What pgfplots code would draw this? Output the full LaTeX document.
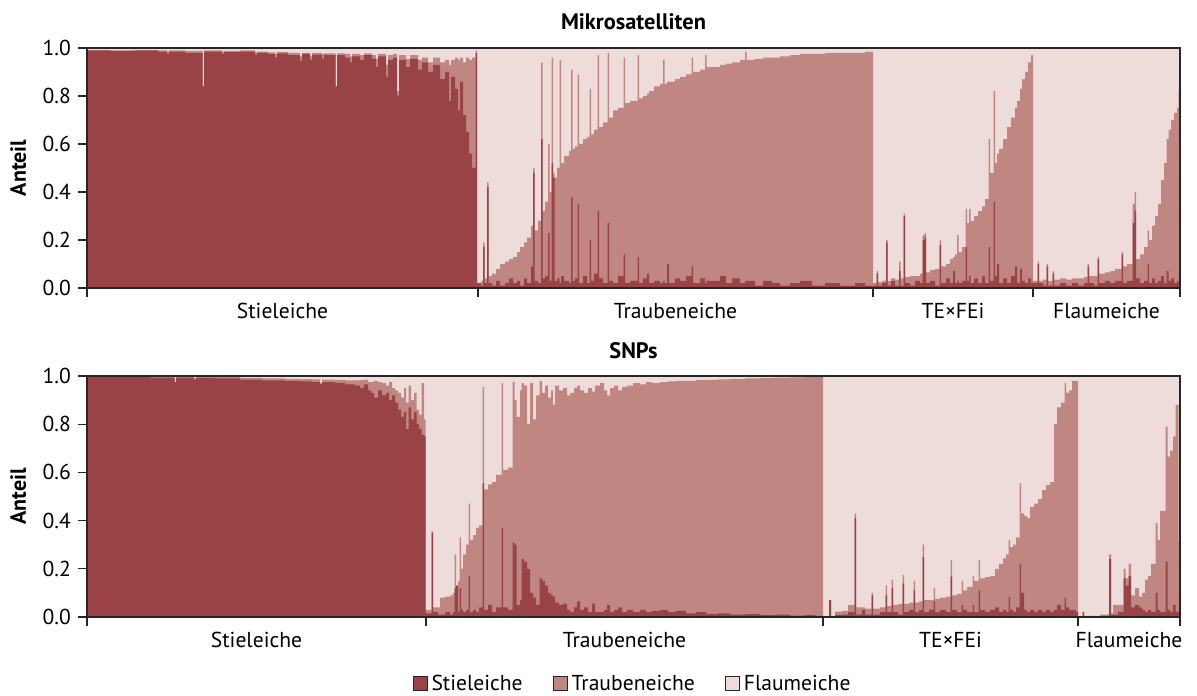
\documentclass[border=0pt]{standalone}
\usepackage{fontspec}
\setmainfont{PT Sans}
\usepackage{pgfplots}
\usepackage{pgfplotstable}
\pgfplotsset{compat=1.18}
\definecolor{stiel}{HTML}{9A4347}
\definecolor{traub}{HTML}{C08782}
\definecolor{flaum}{HTML}{EEDCDB}

% x = position along the axis, s = Stieleiche, t = Stieleiche + Traubeneiche
\pgfplotstableread{
x s t
87 0.99 0.99
110 0.988 0.99
135 0.99 0.99
158 0.985 0.99
167 0.975 0.985
169 0.985 0.99
185 0.98 0.988
202.5 0.84 0.84
204 0.985 0.99
222 0.975 0.985
224 0.983 0.988
240 0.985 0.99
255 0.97 0.982
257 0.98 0.985
268 0.975 0.982
275 0.96 0.975
277 0.978 0.984
288 0.97 0.98
300 0.945 0.965
302 0.975 0.98
310 0.95 0.965
312 0.972 0.98
322 0.955 0.975
324 0.97 0.978
335.5 0.84 0.84
337 0.97 0.978
345 0.96 0.975
350 0.94 0.965
352 0.965 0.975
360 0.95 0.97
364 0.97 0.978
372 0.955 0.97
376 0.92 0.955
378 0.965 0.975
386 0.88 0.93
388 0.95 0.97
393 0.96 0.975
397 0.8 0.82
399 0.95 0.97
406 0.92 0.955
410 0.955 0.97
418 0.91 0.95
422 0.94 0.96
428 0.9 0.94
433 0.93 0.96
440 0.87 0.94
445 0.9 0.95
449 0.78 0.93
451 0.88 0.95
455 0.83 0.96
458 0.74 0.95
460 0.86 0.96
463 0.72 0.94
466 0.65 0.96
469 0.56 0.95
472 0.5 0.96
475.5 0.98 0.99
477 0.02 0.02
481 0.01 0.03
483 0.17 0.19
484.5 0.02 0.04
487 0.42 0.44
488.5 0.02 0.05
492 0.01 0.06
496 0.03 0.08
500 0.01 0.1
505 0.02 0.11
509 0.04 0.12
513 0.02 0.13
517 0.03 0.15
520 0.01 0.17
524 0.04 0.19
527 0.02 0.21
531 0.09 0.26
533 0.48 0.5
534.5 0.03 0.24
538 0.02 0.28
541 0.62 0.94
542.5 0.04 0.32
545 0.05 0.36
548 0.23 0.6
549.5 0.03 0.4
551.5 0.52 0.96
553 0.46 0.48
554.5 0.03 0.46
557 0.04 0.5
559.5 0.02 0.95
561 0.05 0.52
564 0.03 0.55
569 0.02 0.57
571 0.38 0.91
572.5 0.03 0.58
575 0.04 0.59
577.5 0.35 0.89
579 0.02 0.6
583 0.05 0.62
587 0.02 0.63
589.5 0.2 0.83
591 0.03 0.64
594 0.06 0.66
597.5 0.32 0.97
599 0.04 0.67
603 0.02 0.69
607.5 0.27 0.98
609 0.03 0.71
613 0.02 0.74
618 0.05 0.75
623.5 0.14 0.96
625 0.02 0.77
630 0.03 0.78
637.5 0.13 0.97
639 0.02 0.79
643 0.04 0.8
647 0.06 0.81
649 0.02 0.82
654 0.03 0.84
660 0.02 0.85
663 0.03 0.95
664.5 0.02 0.85
667 0.1 0.86
669 0.02 0.86
675 0.04 0.87
680 0.03 0.88
686 0.05 0.89
691.5 0.09 0.96
693 0.02 0.9
700 0.04 0.91
705 0.02 0.97
706.5 0.03 0.92
713 0.03 0.92
720 0.05 0.93
726 0.02 0.935
732 0.04 0.94
740 0.02 0.95
745 0.03 0.985
746.5 0.03 0.95
755 0.01 0.955
763 0.03 0.96
772 0.02 0.96
780 0.01 0.965
790 0.02 0.97
800 0.03 0.975
812 0.01 0.975
825 0.02 0.98
840 0.01 0.98
855 0.02 0.98
865 0.01 0.985
873 0.01 0.02
876.5 0.06 0.07
878 0.01 0.025
882 0.02 0.03
886 0.19 0.2
887.5 0.01 0.03
891 0.03 0.04
895 0.01 0.035
899 0.07 0.11
900.5 0.01 0.04
903.5 0.3 0.31
905 0.02 0.045
910 0.01 0.05
915 0.03 0.05
920 0.02 0.06
922.5 0.2 0.22
924.5 0.21 0.23
926 0.02 0.065
930 0.03 0.075
935 0.01 0.08
939.5 0.18 0.2
941 0.02 0.09
946 0.04 0.1
950 0.02 0.12
953 0.07 0.13
955 0.02 0.14
957 0.03 0.22
958.5 0.02 0.15
962 0.03 0.17
965.5 0.17 0.33
967 0.03 0.27
969 0.05 0.33
970.5 0.02 0.28
974 0.04 0.3
978 0.02 0.32
982 0.05 0.34
985 0.02 0.37
988.5 0.17 0.62
990 0.03 0.48
993.5 0.36 0.82
995 0.05 0.52
997 0.1 0.56
999 0.02 0.58
1003 0.04 0.62
1007 0.02 0.67
1011 0.05 0.71
1015 0.09 0.75
1017 0.02 0.78
1020 0.08 0.83
1022 0.03 0.87
1025 0.02 0.9
1028 0.04 0.94
1031 0.02 0.97
1033 0.02 0.03
1037.5 0.1 0.11
1039 0.02 0.03
1043 0.01 0.035
1046.5 0.09 0.1
1048 0.01 0.03
1052.5 0.06 0.07
1054 0.01 0.035
1060 0.02 0.04
1066 0.01 0.035
1072 0.02 0.04
1078 0.01 0.04
1084 0.02 0.045
1087.5 0.09 0.1
1089 0.02 0.05
1094 0.01 0.05
1097.5 0.12 0.13
1099 0.02 0.06
1105 0.03 0.065
1110 0.02 0.07
1115 0.03 0.08
1121.5 0.14 0.15
1123 0.02 0.09
1127 0.03 0.1
1132.5 0.27 0.35
1134.5 0.32 0.4
1136 0.04 0.12
1140 0.02 0.14
1144 0.03 0.17
1147.5 0.1 0.24
1149 0.02 0.2
1152 0.04 0.26
1155 0.02 0.3
1158 0.03 0.35
1161 0.05 0.45
1164 0.02 0.52
1166.5 0.07 0.62
1168.5 0.03 0.66
1171 0.04 0.7
1174 0.02 0.73
1177 0.03 0.75
1178.5 0.02 0.83
1180 0 0
}\mikro

\pgfplotstableread{
x s t
87 0.995 0.997
120 0.995 0.998
150 0.993 0.997
174.5 0.975 0.975
176 0.993 0.997
194 0.985 0.99
196 0.992 0.996
215 0.99 0.995
240 0.985 0.992
262 0.982 0.99
285 0.98 0.988
300 0.978 0.987
312 0.975 0.986
320 0.968 0.968
322 0.975 0.985
335 0.972 0.984
345 0.965 0.982
355 0.96 0.982
360 0.95 0.983
364 0.965 0.985
368 0.94 0.975
371 0.93 0.976
374 0.91 0.98
378 0.94 0.975
382 0.92 0.97
386 0.93 0.96
389 0.9 0.975
392 0.92 0.95
395 0.89 0.94
398 0.86 0.93
401 0.83 0.91
404 0.85 0.95
406 0.78 0.89
408.5 0.87 0.96
411 0.82 0.9
414 0.85 0.93
416.5 0.8 0.86
419 0.78 0.84
421.5 0.755 0.97
424 0.75 0.82
425.5 0.015 0.03
431.5 0.35 0.355
433 0.02 0.04
438 0.01 0.04
440 0.01 0.08
445 0.02 0.085
450 0.01 0.09
453 0.02 0.1
454.5 0.12 0.26
456 0.13 0.13
458 0.02 0.15
459.5 0.12 0.33
461 0.03 0.2
463 0.02 0.26
466 0.03 0.3
468.5 0.17 0.47
470 0.02 0.32
473 0.03 0.34
476 0.02 0.37
479 0.04 0.38
482.5 0.555 0.956
484 0.03 0.53
488 0.05 0.55
492 0.02 0.56
496 0.04 0.59
501.5 0.37 0.97
503 0.04 0.61
508 0.03 0.62
512.5 0.31 0.976
514.5 0.3 0.9
516.5 0.05 0.83
520 0.07 0.94
521.5 0.24 0.97
524 0.23 0.96
527 0.2 0.8
530 0.1 0.97
533 0.08 0.82
536 0.05 0.92
539.5 0.16 0.98
542 0.15 0.93
545 0.13 0.96
548 0.1 0.91
551 0.09 0.94
553 0.085 0.88
555 0.06 0.96
559 0.05 0.94
563 0.056 0.95
567 0.03 0.92
570 0.02 0.93
574 0.04 0.95
577 0.065 0.96
580 0.03 0.94
584 0.04 0.93
588 0.02 0.95
592 0.056 0.935
595 0.02 0.96
600 0.02 0.97
604 0.03 0.94
607 0.05 0.92
610 0.02 0.95
614 0.03 0.96
618 0.04 0.94
622 0.02 0.955
627 0.03 0.96
633 0.02 0.97
640 0.03 0.965
646 0.02 0.975
652 0.025 0.97
660 0.03 0.975
668 0.02 0.978
676 0.025 0.98
686 0.015 0.98
696 0.02 0.983
706 0.012 0.984
718 0.015 0.986
730 0.01 0.987
745 0.012 0.99
760 0.008 0.991
775 0.01 0.993
790 0.006 0.994
805 0.008 0.996
815 0.005 0.997
823 0 0
829 0.07 0.07
831 0 0
835 0.008 0.022
842 0.01 0.025
848 0.02 0.05
854.5 0.41 0.43
856 0.01 0.04
862 0.03 0.04
865 0.01 0.035
871.5 0.09 0.1
873 0.01 0.035
880 0.02 0.04
885.5 0.09 0.13
887 0.02 0.045
891.5 0.12 0.155
893 0.02 0.05
898 0.01 0.055
902.5 0.14 0.175
904 0.02 0.055
909 0.03 0.06
913.5 0.11 0.15
915 0.02 0.06
919 0.03 0.065
922.5 0.25 0.3
924 0.02 0.07
929 0.03 0.07
933.5 0.065 0.12
935 0.02 0.075
940 0.03 0.08
946 0.02 0.085
950.5 0.168 0.237
952 0.03 0.09
957 0.02 0.095
961.5 0.05 0.15
963 0.03 0.11
967 0.02 0.125
972.5 0.05 0.17
974 0.02 0.15
978.5 0.11 0.237
980 0.03 0.16
985 0.02 0.165
990 0.03 0.17
995 0.04 0.2
999 0.02 0.22
1003 0.03 0.243
1006 0.02 0.26
1008.5 0.085 0.32
1010 0.03 0.29
1013 0.02 0.3
1016 0.04 0.33
1019.5 0.22 0.555
1021 0.1 0.43
1024 0.03 0.42
1027 0.02 0.41
1030 0.03 0.457
1034 0.02 0.47
1038 0.03 0.49
1042 0.02 0.527
1046 0.03 0.547
1050 0.02 0.56
1054 0.03 0.8
1057 0.05 0.87
1061 0.03 0.89
1064.5 0.08 0.97
1066 0.04 0.93
1069 0.03 0.94
1072 0.03 0.98
1076 0.02 0.98
1078 0 0
1082.5 0.02 0.02
1084 0 0.005
1092 0.003 0.005
1100 0.005 0.01
1109 0.24 0.26
1111 0.01 0.015
1113 0.01 0.05
1118 0.02 0.05
1123.5 0.16 0.2
1125.5 0.13 0.16
1128.5 0.17 0.22
1131 0.04 0.09
1135 0.05 0.12
1139 0.04 0.085
1142 0.03 0.1
1145 0.02 0.155
1148 0.03 0.17
1151 0.02 0.22
1155.5 0.1 0.39
1157.5 0.03 0.32
1160 0.02 0.44
1165.5 0.23 0.79
1167.5 0.03 0.665
1170 0.02 0.69
1173 0.05 0.75
1175.5 0.02 0.88
1178.5 0.03 0.31
1180 0 0
}\snps

\pgfplotsset{
  structure/.style={
    scale only axis, width=546.5pt,
    xmin=87, xmax=1180, ymin=0, ymax=1,
    axis on top, tick align=outside, tick pos=left,
    major tick length=4.3pt,
    axis line style={draw=black!85, line width=0.8pt},
    every tick/.style={draw=black!85, line width=0.6pt},
    ytick={0,0.2,0.4,0.6,0.8,1},
    /pgf/number format/assume math mode=true,
    y tick label style={/pgf/number format/fixed, /pgf/number format/fixed zerofill, /pgf/number format/precision=1},
    ylabel={\bfseries Anteil},
    ylabel style={at={(axis description cs:-0.063,0.5)}, anchor=center, font=\fontsize{11}{13}\selectfont},
    title style={at={(0.5,1)}, anchor=base, yshift=3pt, font=\fontsize{11.2}{13}\selectfont},
    xticklabels={,,,,,},
    extra x tick style={major tick length=0pt, tick label style={anchor=base, yshift=-15pt}},
  },
}

\begin{document}
\fontsize{10.8}{13}\selectfont
\begin{tikzpicture}
\path[use as bounding box] (0,0) rectangle (598.5pt,-347.5pt);

\begin{axis}[structure, height=120pt,
  at={(43.5pt,-144pt)}, anchor=south west,
  title={\bfseries Mikrosatelliten},
  xtick={87,478,873,1033,1180},
  extra x ticks={282.5,675.5,953,1106.5},
  extra x tick labels={Stieleiche,Traubeneiche,TE×FEi,Flaumeiche},
]
\addplot[fill=flaum, draw=none, forget plot] coordinates {(87,1) (1180,1)} \closedcycle;
\addplot[const plot, fill=traub, draw=none, forget plot] table[x=x, y=t]{\mikro} \closedcycle;
\addplot[const plot, fill=stiel, draw=none, forget plot] table[x=x, y=s]{\mikro} \closedcycle;
\end{axis}

\begin{axis}[structure, height=120.5pt,
  at={(43.5pt,-308.5pt)}, anchor=south west,
  title={\bfseries SNPs},
  xtick={87,426,823,1078,1180},
  extra x ticks={256.5,624.5,950.5,1129},
  extra x tick labels={Stieleiche,Traubeneiche,TE×FEi,Flaumeiche},
  legend columns=3,
  legend style={at={(0.5,0)}, anchor=center, yshift=-33.5pt, draw=none, fill=none,
    /tikz/every even column/.append style={column sep=13pt}},
  legend image code/.code={\draw[#1, draw=black!85, line width=0.5pt] (0pt,-3pt) rectangle (7pt,4pt);},
]
\addplot[fill=flaum, draw=none, forget plot] coordinates {(87,1) (1180,1)} \closedcycle;
\addplot[const plot, fill=traub, draw=none, forget plot] table[x=x, y=t]{\snps} \closedcycle;
\addplot[const plot, fill=stiel, draw=none, forget plot] table[x=x, y=s]{\snps} \closedcycle;
\addlegendimage{fill=stiel}
\addlegendentry{Stieleiche}
\addlegendimage{fill=traub}
\addlegendentry{Traubeneiche}
\addlegendimage{fill=flaum}
\addlegendentry{Flaumeiche}
\end{axis}
\end{tikzpicture}
\end{document}
